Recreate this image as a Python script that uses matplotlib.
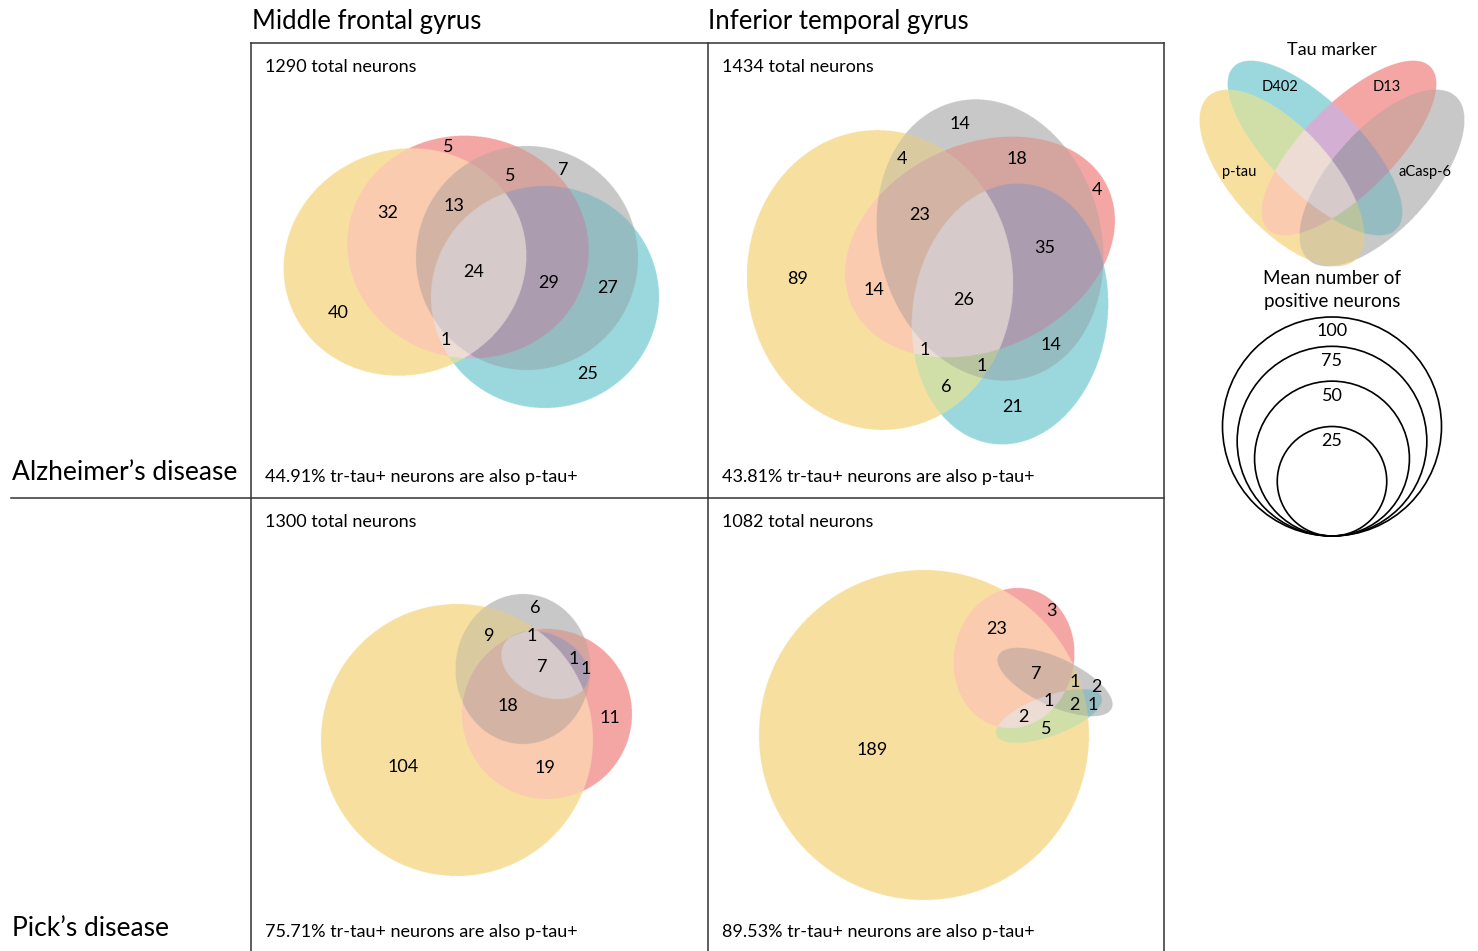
import numpy as np
import matplotlib.pyplot as plt
from matplotlib.patches import Circle

plt.rcParams['font.family'] = ['Lato', 'DejaVu Sans']

# tau markers, in set order (bit 0..3)
markers = ["p-tau", "D402", "D13", "aCasp-6"]
col_titles = ["Middle frontal gyrus", "Inferior temporal gyrus"]
row_titles = ["Alzheimer\u2019s disease", "Pick\u2019s disease"]

# per panel: AD-MFG, AD-ITG, PiD-MFG, PiD-ITG
total_neurons = [1290, 1434, 1300, 1082]
pct_also_ptau = [44.91, 43.81, 75.71, 89.53]

# region counts (mean number of positive neurons)
ad_mfg_counts = [40, 32, 5, 13, 24, 5, 7, 29, 27, 25, 1]
ad_itg_counts = [14, 4, 18, 4, 23, 35, 89, 14, 26, 1, 1, 14, 6, 21]
pid_mfg_counts = [6, 9, 1, 7, 1, 1, 18, 11, 104, 19]
pid_itg_counts = [3, 23, 7, 1, 2, 1, 2, 1, 2, 5, 189]

# size legend
scale_values = [100, 75, 50, 25]

# region colours by membership bits: 1 p-tau, 2 D402, 4 D13, 8 aCasp-6
region_hex = {
    0: "#FFFFFF", 1: "#F7E0A0", 2: "#9AD9DE", 3: "#D0E0A8",
    4: "#F4A6A4", 5: "#FBCBB0", 6: "#D4B0D4", 7: "#ECDCD4",
    8: "#C8C8C8", 9: "#DACBA0", 10: "#96BCC0", 11: "#B8C4A0",
    12: "#D4A4A0", 13: "#D2B4A4", 14: "#AC9CB0", 15: "#D6CACA",
}
palette = np.array([[int(region_hex[k][i:i + 2], 16) / 255 for i in (1, 3, 5)]
                    for k in range(16)])

# ---- layout (pixel space) ----
# ellipses: (cx, cy, width, height, angle clockwise) for p-tau, D402, D13, aCasp-6
shapes = [
    [(405, 262, 245, 225, -20), (545, 297, 228, 222, 0),
     (468, 247, 242, 222, 10), (527, 258, 222, 224, 0)],
    [(880, 280, 266, 300, -5), (1010, 314, 195, 262, 8),
     (980, 247, 282, 205, -25), (990, 240, 222, 285, -15)],
    [(457, 740, 272, 272, 0), (545, 665, 92, 62, 25),
     (547, 714, 170, 170, 0), (523, 669, 135, 150, 0)],
    [(924, 735, 330, 330, 0), (1049, 716, 112, 40, -20),
     (1014, 658, 120, 141, 12), (1055, 682, 125, 48, 25)],
]
boxes = [(252, 44, 707, 497), (709, 44, 1163, 497),
         (252, 499, 707, 951), (709, 499, 1163, 951)]
label_xy = [
    [(338, 313), (388, 213), (448, 147), (454, 206), (474, 272), (510, 176),
     (563, 170), (549, 283), (608, 288), (588, 374), (446, 340)],
    [(960, 124), (902, 159), (1017, 159), (1097, 190), (920, 215), (1045, 248),
     (798, 279), (874, 290), (964, 300), (925, 350), (982, 366), (1051, 345),
     (946, 387), (1013, 407)],
    [(535, 608), (489, 636), (532, 636), (542, 667), (574, 659), (586, 669),
     (508, 706), (610, 718), (403, 767), (545, 768)],
    [(1051, 611), (997, 629), (1036, 674), (1075, 682), (1096, 687), (1049, 701),
     (1074, 705), (1093, 705), (1023, 717), (1046, 729), (872, 750)],
]
legend_shapes = [(1282, 178, 220, 100, 48), (1315, 148, 230, 90, 45),
                 (1349, 148, 230, 90, -45), (1382, 178, 220, 100, -48)]
legend_label_xy = [(1239, 172), (1280, 87), (1387, 87), (1425, 172)]


def draw_sets(ax, box, ellipses, s=3):
    x0, y0, x1, y1 = box
    xs = x0 + (np.arange(int((x1 - x0) * s)) + 0.5) / s
    ys = y0 + (np.arange(int((y1 - y0) * s)) + 0.5) / s
    X, Y = np.meshgrid(xs, ys)
    code = np.zeros(X.shape, dtype=int)
    for bit, (cx, cy, w, h, ang) in enumerate(ellipses):
        t = np.deg2rad(ang)
        dx, dy = X - cx, Y - cy
        u = dx * np.cos(t) + dy * np.sin(t)
        v = -dx * np.sin(t) + dy * np.cos(t)
        code |= (((u / (w / 2)) ** 2 + (v / (h / 2)) ** 2) <= 1).astype(int) << bit
    ax.imshow(palette[code], extent=(x0, x1, y1, y0), origin='upper',
              interpolation='antialiased', zorder=1)


fig = plt.figure(figsize=(14.78, 9.51), dpi=100)
ax = fig.add_axes([0, 0, 1, 1])

all_counts = [ad_mfg_counts, ad_itg_counts, pid_mfg_counts, pid_itg_counts]
for i in range(4):
    draw_sets(ax, boxes[i], shapes[i])
    for n, (x, y) in zip(all_counts[i], label_xy[i]):
        ax.text(x, y, str(n), ha='center', va='center', fontsize=13, zorder=3)
    bx = boxes[i][0] + 13
    ytop = 67 if i < 2 else 522
    ybot = 477 if i < 2 else 932
    ax.text(bx, ytop, f"{total_neurons[i]} total neurons", ha='left',
            va='center', fontsize=13, zorder=3)
    ax.text(bx, ybot, f"{pct_also_ptau[i]:.2f}% tr-tau+ neurons are also p-tau+",
            ha='left', va='center', fontsize=13, zorder=3)

# frames
lc = '#333333'
ax.plot([251, 1164], [43, 43], color=lc, lw=1.1, zorder=4)
ax.plot([11, 1164], [498, 498], color=lc, lw=1.1, zorder=4)
for x in (251, 708, 1164):
    ax.plot([x, x], [43, 951], color=lc, lw=1.1, zorder=4)

for x, t in zip((252, 708), col_titles):
    ax.text(x, 21, t, ha='left', va='center', fontsize=18.5)
for y, t in zip((473, 929), row_titles):
    ax.text(12, y, t, ha='left', va='center', fontsize=19)

# marker legend
ax.text(1332, 50, "Tau marker", ha='center', va='center', fontsize=13)
draw_sets(ax, (1185, 55, 1478, 270), legend_shapes)
for m, (x, y) in zip(markers, legend_label_xy):
    ax.text(x, y, m, ha='center', va='center', fontsize=10.5, zorder=3)

# size legend
ax.text(1332, 290, "Mean number of\npositive neurons", ha='center', va='center',
        fontsize=13.5, linespacing=1.4)
base_y, r100 = 536, 109.5
for v in scale_values:
    r = r100 * np.sqrt(v / scale_values[0])
    ax.add_patch(Circle((1332, base_y - r), r, fill=False, ec='black', lw=1.2))
    ax.text(1332, base_y - 2 * r + 14.5, str(v), ha='center', va='center', fontsize=13)

ax.set_xlim(0, 1478)
ax.set_ylim(951, 0)
ax.set_aspect('auto')
ax.axis('off')
fig.savefig('out.png', dpi=100)
